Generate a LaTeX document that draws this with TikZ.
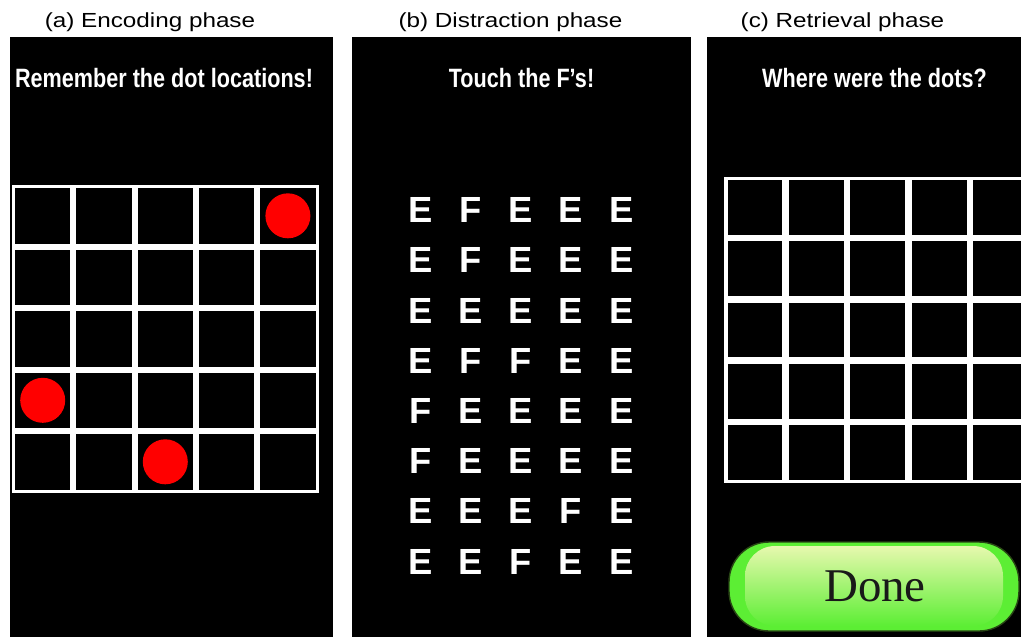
\documentclass[tikz,border=0pt]{standalone}
\usepackage{fontspec}
\usepackage{graphicx}
\setmainfont{Liberation Sans}
\newfontfamily\donefont{Liberation Serif}

\definecolor{dotred}{RGB}{255,0,0}
\definecolor{btngreen}{RGB}{92,238,52}
\definecolor{btnpale}{RGB}{255,250,196}
\definecolor{btnrim}{RGB}{40,70,20}

\begin{document}
\begin{tikzpicture}[
    x=0.02cm, y=-0.02cm,
    panel/.style={fill=black},
    title/.style={anchor=base, inner sep=0pt, font=\fontsize{11.6}{14}\selectfont},
    prompt/.style={anchor=base, inner sep=0pt, text=white, font=\fontsize{15.1}{18}\selectfont\bfseries},
    letter/.style={anchor=base, inner sep=0pt, text=white, font=\fontsize{20.7}{24}\selectfont\bfseries},
    dot/.style={circle, fill=dotred, minimum size=0.9cm, inner sep=0pt}
]

\useasboundingbox[fill=white] (0,0) rectangle (1021,637);

% Panels
\fill[panel] (10,37) rectangle (333,637);
\fill[panel] (352,37) rectangle (691,637);
\fill[panel] (707,37) rectangle (1021,637);

% --- (a) Encoding phase ---
\node[title] (ta) at (150,27.5) {\scalebox{1.19}[1]{(a) Encoding phase}};
\node[prompt] (pa) at (164,87.3) {\scalebox{0.815}[1]{Remember the dot locations!}};

\fill[white] (12,185) rectangle (318.5,492.5);
\foreach \i in {0,...,4}
  \foreach \j in {0,...,4}
    \fill[black] ({15+61.3*\i},{188+61.5*\j}) rectangle ++(55.3,55.5);

\node[dot] (d1) at (287.9,215.8) {};
\node[dot] (d2) at (42.7,400.3) {};
\node[dot] (d3) at (165.3,461.8) {};

% --- (b) Distraction phase ---
\node[title] (tb) at (510.5,27.5) {\scalebox{1.19}[1]{(b) Distraction phase}};
\node[prompt] (pb) at (521.5,87.3) {\scalebox{0.815}[1]{Touch the F’s!}};

\foreach \row [count=\r from 0] in {{E,F,E,E,E},{E,F,E,E,E},{E,E,E,E,E},{E,F,F,E,E},
                                    {F,E,E,E,E},{F,E,E,E,E},{E,E,E,F,E},{E,E,F,E,E}}
  \foreach \ch [count=\c from 0] in \row
    \node[letter] (l\r\c) at ({420.5+50.2*\c},{222.7+50.2*\r}) {\ch};

% --- (c) Retrieval phase ---
\node[title] (tc) at (842.5,27.5) {\scalebox{1.19}[1]{(c) Retrieval phase}};
\node[prompt] (pc) at (874.5,87.3) {\scalebox{0.815}[1]{Where were the dots?}};

\begin{scope}
\clip (707,37) rectangle (1021,637);
\fill[white] (724.3,176.7) rectangle (1031,483.3);
\foreach \i in {0,...,4}
  \foreach \j in {0,...,4}
    \fill[black] ({727.6+61.4*\i},{180+61.3*\j}) rectangle ++(54.8,54.7);

% Done button
\fill[btngreen, draw=btnrim, line width=0.8pt, rounded corners=0.8cm] (729,542) rectangle (1019,631);
\shade[top color=btnpale!85!btngreen, middle color=btnpale, bottom color=btngreen,
       rounded corners=0.6cm] (745,546) rectangle (1003,626);
\end{scope}
\node[anchor=base, inner sep=0pt, text=black!90, font=\donefont\fontsize{26.7}{30}\selectfont] (done) at (875,601) {Done};

\end{tikzpicture}
\end{document}
